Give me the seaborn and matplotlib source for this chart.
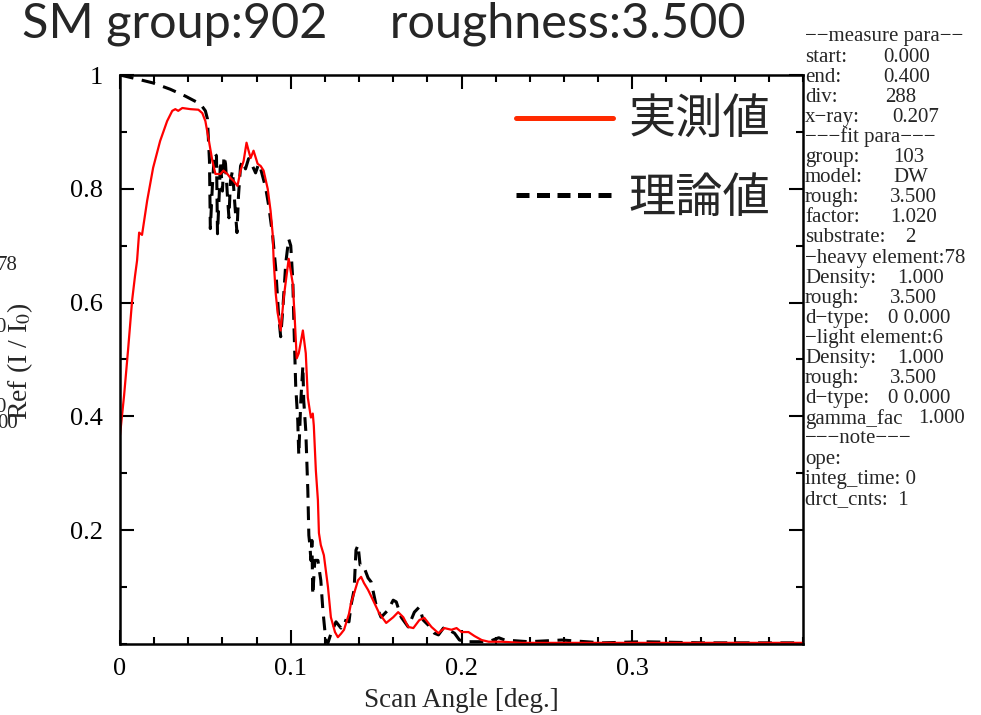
import numpy as np
import pandas as pd
import seaborn as sns
import matplotlib.pyplot as plt
from matplotlib.lines import Line2D
from matplotlib.ticker import MultipleLocator, FixedLocator, FixedFormatter

# measured curve (red)
meas_x = [0.0, 0.0024, 0.0047, 0.0071, 0.0088, 0.0100, 0.0112, 0.0129, 0.0159, 0.0194,
          0.0235, 0.0276, 0.0306, 0.0324, 0.0341, 0.0365, 0.0412, 0.0459, 0.0482, 0.0500,
          0.0518, 0.0541, 0.0559, 0.0588, 0.0606, 0.0629, 0.0647, 0.0665, 0.0688, 0.0706,
          0.0724, 0.0741, 0.0753, 0.0765, 0.0782, 0.0806, 0.0824, 0.0841, 0.0865, 0.0882,
          0.0894, 0.0900, 0.0912, 0.0924, 0.0941, 0.0959, 0.0988, 0.1012, 0.1024, 0.1035,
          0.1047, 0.1071, 0.1088, 0.1100, 0.1118, 0.1129, 0.1135, 0.1147, 0.1159, 0.1165,
          0.1176, 0.1194, 0.1218, 0.1235, 0.1259, 0.1276, 0.1294, 0.1312, 0.1341, 0.1353,
          0.1371, 0.1394, 0.1412, 0.1429, 0.1453, 0.1482, 0.1518, 0.1559, 0.1600, 0.1629,
          0.1659, 0.1688, 0.1718, 0.1753, 0.1782, 0.1824, 0.1865, 0.1900, 0.1941, 0.1971,
          0.2000, 0.2041, 0.2076, 0.2118, 0.2159, 0.2235, 0.2353, 0.2588, 0.2824, 0.3412,
          0.4000]
meas_y = [0.367, 0.437, 0.516, 0.604, 0.647, 0.674, 0.723, 0.719, 0.779, 0.837,
          0.884, 0.919, 0.937, 0.940, 0.937, 0.942, 0.940, 0.939, 0.933, 0.919,
          0.889, 0.849, 0.826, 0.826, 0.832, 0.826, 0.819, 0.814, 0.805, 0.832,
          0.849, 0.881, 0.867, 0.854, 0.867, 0.844, 0.840, 0.832, 0.800, 0.761,
          0.721, 0.674, 0.616, 0.581, 0.551, 0.609, 0.677, 0.633, 0.568, 0.502,
          0.511, 0.551, 0.511, 0.433, 0.398, 0.405, 0.384, 0.305, 0.253, 0.195,
          0.174, 0.156, 0.100, 0.047, 0.021, 0.012, 0.018, 0.025, 0.053, 0.072,
          0.089, 0.112, 0.118, 0.107, 0.095, 0.077, 0.054, 0.037, 0.047, 0.056,
          0.047, 0.030, 0.028, 0.042, 0.046, 0.030, 0.019, 0.028, 0.025, 0.028,
          0.021, 0.021, 0.014, 0.007, 0.004, 0.004, 0.002, 0.002, 0.002, 0.002,
          0.002]

# theoretical curve (black dashed)
theo_x = [0.0, 0.0100, 0.0194, 0.0294, 0.0382, 0.0471, 0.0500, 0.0512, 0.0524, 0.0529,
          0.0541, 0.0553, 0.0565, 0.0571, 0.0582, 0.0588, 0.0600, 0.0609, 0.0618, 0.0629,
          0.0638, 0.0647, 0.0659, 0.0671, 0.0685, 0.0694, 0.0706, 0.0718, 0.0735, 0.0753,
          0.0776, 0.0794, 0.0812, 0.0824, 0.0853, 0.0871, 0.0894, 0.0912, 0.0929, 0.0941,
          0.0953, 0.0971, 0.0988, 0.1000, 0.1012, 0.1018, 0.1029, 0.1041, 0.1047, 0.1059,
          0.1071, 0.1076, 0.1088, 0.1100, 0.1106, 0.1112, 0.1118, 0.1124, 0.1129, 0.1141,
          0.1159, 0.1176, 0.1188, 0.1206, 0.1218, 0.1235, 0.1265, 0.1294, 0.1312, 0.1341,
          0.1353, 0.1371, 0.1382, 0.1394, 0.1406, 0.1424, 0.1453, 0.1471, 0.1500, 0.1529,
          0.1571, 0.1600, 0.1618, 0.1647, 0.1688, 0.1724, 0.1753, 0.1776, 0.1806, 0.1841,
          0.1865, 0.1894, 0.1924, 0.1959, 0.1988, 0.2029, 0.2159, 0.2218, 0.2253, 0.2394,
          0.2588, 0.2824, 0.3059, 0.3412, 0.4000]
theo_y = [1.000, 0.993, 0.986, 0.975, 0.963, 0.949, 0.937, 0.923, 0.849, 0.730,
          0.805, 0.863, 0.858, 0.721, 0.796, 0.849, 0.796, 0.858, 0.844, 0.788,
          0.749, 0.814, 0.832, 0.779, 0.723, 0.788, 0.840, 0.849, 0.835, 0.853,
          0.840, 0.828, 0.844, 0.835, 0.802, 0.770, 0.718, 0.660, 0.577, 0.540,
          0.586, 0.670, 0.712, 0.700, 0.639, 0.568, 0.454, 0.393, 0.332, 0.428,
          0.489, 0.428, 0.375, 0.270, 0.191, 0.174, 0.147, 0.182, 0.086, 0.147,
          0.147, 0.112, 0.060, 0.004, 0.002, 0.018, 0.039, 0.028, 0.042, 0.039,
          0.068, 0.095, 0.165, 0.174, 0.139, 0.139, 0.116, 0.109, 0.068, 0.047,
          0.060, 0.077, 0.074, 0.047, 0.030, 0.056, 0.065, 0.042, 0.033, 0.019,
          0.016, 0.028, 0.025, 0.019, 0.007, 0.004, 0.004, 0.011, 0.007, 0.004,
          0.007, 0.002, 0.004, 0.002, 0.002]

x_ticks = [0, 0.1, 0.2, 0.3]
x_labels = ["0", "0.1", "0.2", "0.3"]
y_ticks = [0.2, 0.4, 0.6, 0.8, 1.0]
y_labels = ["0.2", "0.4", "0.6", "0.8", "1"]

title = "SM group:902     roughness:3.500"
legend_labels = ["実測値", "理論値"]

# side panel: (label, value, value x in px)
panel = [
    ("−−measure para−−", "", 0),
    ("start:", "0.000", 883),
    ("end:", "0.400", 883),
    ("div:", "288", 885),
    ("x−ray:", "0.207", 892),
    ("−−−fit para−−−", "", 0),
    ("group:", "103", 893),
    ("model:", "DW", 893),
    ("rough:", "3.500", 890),
    ("factor:", "1.020", 890),
    ("substrate:", "2", 905),
    ("−heavy element:78", "", 0),
    ("Density:", "1.000", 897),
    ("rough:", "3.500", 890),
    ("d−type:", "0 0.000", 888),
    ("−light element:6", "", 0),
    ("Density:", "1.000", 897),
    ("rough:", "3.500", 890),
    ("d−type:", "0 0.000", 888),
    ("gamma_fac", "1.000", 918),
    ("−−−note−−−", "", 0),
    ("ope:", "", 0),
    ("integ_time: 0", "", 0),
    ("drct_cnts:  1", "", 0),
]

sns.set_theme(style="ticks")
plt.rcParams["font.family"] = ["Liberation Serif", "DejaVu Serif"]
plt.rcParams["mathtext.fontset"] = "stix"

W, H = 981, 715
fig = plt.figure(figsize=(W / 100, H / 100), dpi=100)
ax = fig.add_axes([120 / W, 1 - 644 / H, 683 / W, 569 / H])

meas = pd.DataFrame({"angle": meas_x, "ref": meas_y})
theo = pd.DataFrame({"angle": theo_x, "ref": theo_y})

sns.lineplot(data=theo, x="angle", y="ref", ax=ax, color="black", lw=2.2,
             dashes=False, estimator=None, sort=False)
ax.lines[-1].set_dashes((4.5, 2.8))
sns.lineplot(data=meas, x="angle", y="ref", ax=ax, color="red", lw=1.6,
             estimator=None, sort=False)

ax.set_xlim(0, 0.4)
ax.set_ylim(0, 1)
ax.xaxis.set_major_locator(FixedLocator(x_ticks))
ax.xaxis.set_major_formatter(FixedFormatter(x_labels))
ax.xaxis.set_minor_locator(MultipleLocator(0.02))
ax.yaxis.set_major_locator(FixedLocator(y_ticks))
ax.yaxis.set_major_formatter(FixedFormatter(y_labels))
ax.yaxis.set_minor_locator(MultipleLocator(0.1))
ax.tick_params(which="both", direction="in", top=True, right=True, width=1.5,
               colors="black", labelsize=19)
ax.tick_params(which="major", length=10)
ax.tick_params(which="minor", length=5)
ax.tick_params(axis="x", pad=10)
ax.tick_params(axis="y", pad=12)
for s in ax.spines.values():
    s.set_linewidth(1.8)
    s.set_color("black")

ax.set_xlabel("Scan Angle [deg.]", fontsize=19.5, labelpad=6)
ax.set_ylabel(r"Ref (I / I$_0$)", fontsize=20)
ax.yaxis.set_label_coords((35 - 120) / 683, 1 - (361 - 75) / 569)

handles = [Line2D([], [], color="#ff2a00", lw=3.6),
           Line2D([], [], color="black", lw=3.6, dashes=(2.6, 1.5))]
leg = ax.legend(handles, legend_labels, loc="upper left",
                bbox_to_anchor=((516 - 120) / 683, 0.962), frameon=False,
                prop={"family": ["Noto Sans CJK JP", "DejaVu Sans"], "size": 34},
                handlelength=2.05, handletextpad=0.33, labelspacing=0.62,
                borderpad=0, borderaxespad=0)

fig.text(22 / W, 1 - 24 / H, title, fontsize=35, family=["Lato", "DejaVu Sans"],
         ha="left", va="center")

# side panel text
for i, (lab, val, vx) in enumerate(panel):
    yy = 1 - (37 + i * 20.1) / H
    fig.text(805 / W, yy, lab, fontsize=15, ha="left", va="center")
    if val:
        fig.text(vx / W, yy, val, fontsize=15, ha="left", va="center")

# clipped text from a neighbouring panel at the left edge
for txt, xr, yc in [("78", 18, 265), ("0", 6, 327), ("0", 6, 407), ("00", 18, 424)]:
    fig.text(xr / W, 1 - yc / H, txt, fontsize=15, ha="right", va="center")

fig.savefig("out.png", dpi=100)
